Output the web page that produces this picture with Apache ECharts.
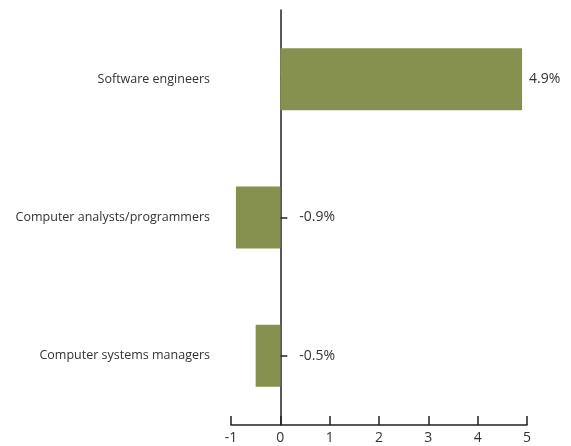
<!DOCTYPE html>
<html>
<head>
<meta charset="utf-8">
<script src="https://cdn.jsdelivr.net/npm/echarts@6/dist/echarts.min.js"></script>
<style>
  html, body { margin: 0; padding: 0; background: #fff; }
  #chart { width: 571px; height: 446px; }
</style>
</head>
<body>
<div id="chart"></div>
<script>
const categories = ['Software engineers', 'Computer analysts/programmers', 'Computer systems managers'];
const values = [4.9, -0.9, -0.5];
const xTicks = [-1, 0, 1, 2, 3, 4, 5];

const chart = echarts.init(document.getElementById('chart'));

const option = {
  animation: false,
  grid: {
    left: 231,
    right: 44,
    top: 10,
    bottom: 21,
    containLabel: false,
    outerBoundsMode: 'none'
  },
  xAxis: {
    type: 'value',
    min: xTicks[0],
    max: xTicks[xTicks.length - 1],
    interval: 1,
    axisLine: { show: true, onZero: false, lineStyle: { color: '#222', width: 1.5 } },
    axisTick: { show: true, inside: true, length: 9, lineStyle: { color: '#222', width: 1.5 } },
    splitLine: { show: false },
    axisLabel: { color: '#333', fontSize: 14, fontFamily: 'Open Sans', margin: 6 }
  },
  yAxis: {
    type: 'category',
    inverse: true,
    data: categories,
    axisLine: { show: true, onZero: true, lineStyle: { color: '#222', width: 1.5 } },
    axisTick: { show: true, inside: true, length: 7, alignWithLabel: true, lineStyle: { color: '#222', width: 1.5 } },
    axisLabel: { color: '#333', fontSize: 12.5, fontFamily: 'Open Sans', margin: 21 }
  },
  series: [{
    type: 'bar',
    barWidth: 62,
    itemStyle: { color: '#86914f' },
    data: values.map(v => ({
      value: v,
      label: {
        show: true,
        position: 'right',
        distance: v < 0 ? 19 : 7,
        formatter: p => p.value + '%',
        color: '#333',
        fontSize: 14,
        fontFamily: 'Open Sans'
      }
    }))
  }]
};

chart.setOption(option);
</script>
</body>
</html>
